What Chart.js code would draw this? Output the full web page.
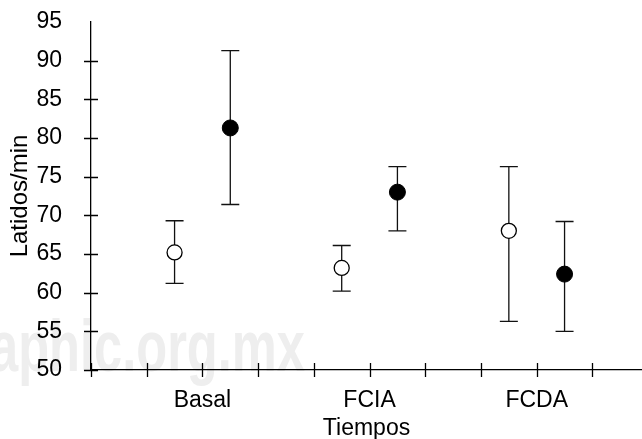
<!DOCTYPE html>
<html>
<head>
<meta charset="utf-8">
<script src="https://cdn.jsdelivr.net/npm/chart.js@4"></script>
<style>
  html, body { margin: 0; padding: 0; background: #ffffff; overflow: hidden; }
  #wrap { width: 642px; height: 439px; position: relative; }
  #chart { display: block; }
</style>
</head>
<body>
<div id="wrap"><canvas id="chart"></canvas></div>
<script>
// Latidos/min por tiempo: two groups (open / filled markers), mean with range bars.
const categories = ['Basal', 'FCIA', 'FCDA'];

const openMean = [65.2, 63.2, 68.0];
const openLow = [61.2, 60.2, 56.3];
const openHigh = [69.3, 66.1, 76.3];

const filledMean = [81.3, 73.0, 62.4];
const filledLow = [71.4, 68.0, 55.0];
const filledHigh = [91.3, 76.3, 69.2];

const yTicks = [50, 55, 60, 65, 70, 75, 80, 85, 90, 95];

const GROUP_OFFSET = 1 / 6;   // each marker sits half a minor tick from the category
const INK = '#000000';
const FONT = '"Liberation Sans", Arial, Helvetica, sans-serif';

function points(means, lows, highs, shift) {
  return means.map((m, i) => ({ x: i + 1 + shift, y: m, lo: lows[i], hi: highs[i] }));
}

// Chart.js adds room for half-labels at the axis ends; the reference has none.
function noEdgePadding(scale) {
  scale.paddingTop = 0;
  scale.paddingBottom = 0;
  scale.paddingLeft = 0;
  scale.paddingRight = 0;
}

/* faint watermark behind everything */
const watermarkPlugin = {
  id: 'watermark',
  beforeDraw(chart) {
    const { ctx } = chart;
    const text = 'aphic.org.mx';
    ctx.save();
    ctx.font = 'bold 73px ' + FONT;
    const w = ctx.measureText(text).width;
    ctx.translate(-10, 371);
    ctx.scale(315 / w, 1);
    ctx.fillStyle = '#eeeeee';
    ctx.textBaseline = 'alphabetic';
    ctx.fillText(text, 0, 0);
    ctx.restore();
  },
};

/* vertical range bars with caps, drawn under the markers */
const errorBarPlugin = {
  id: 'errorBars',
  beforeDatasetsDraw(chart) {
    const { ctx, scales: { x, y } } = chart;
    ctx.save();
    ctx.strokeStyle = '#111111';
    ctx.lineWidth = 1.3;
    chart.data.datasets.forEach((ds) => {
      ds.data.forEach((p) => {
        const px = x.getPixelForValue(p.x);
        const top = y.getPixelForValue(p.hi);
        const bot = y.getPixelForValue(p.lo);
        ctx.beginPath();
        ctx.moveTo(px, top);
        ctx.lineTo(px, bot);
        ctx.moveTo(px - 9, top);
        ctx.lineTo(px + 9, top);
        ctx.moveTo(px - 9, bot);
        ctx.lineTo(px + 9, bot);
        ctx.stroke();
      });
    });
    ctx.restore();
  },
};

/* tick marks that cross the axis lines */
const crossTicksPlugin = {
  id: 'crossTicks',
  afterDatasetsDraw(chart) {
    const { ctx, scales: { x, y }, chartArea } = chart;
    ctx.save();
    ctx.strokeStyle = INK;
    ctx.lineWidth = 1.3;
    ctx.beginPath();
    y.ticks.forEach((t) => {
      if (t.value >= y.max) return;
      const py = Math.round(y.getPixelForValue(t.value)) + 0.5;
      ctx.moveTo(chartArea.left - 7, py);
      ctx.lineTo(chartArea.left + 7, py);
    });
    x.ticks.forEach((t) => {
      const px = Math.round(x.getPixelForValue(t.value)) + 0.5;
      ctx.moveTo(px, chartArea.bottom - 7);
      ctx.lineTo(px, chartArea.bottom + 7);
    });
    ctx.stroke();
    ctx.restore();
  },
};

Chart.defaults.font.family = FONT;
Chart.defaults.color = INK;

new Chart(document.getElementById('chart'), {
  type: 'scatter',
  data: {
    datasets: [
      {
        label: 'Grupo 1',
        data: points(openMean, openLow, openHigh, -GROUP_OFFSET),
        pointRadius: 7.5,
        pointBorderWidth: 1.3,
        borderColor: INK,
        backgroundColor: '#ffffff',
      },
      {
        label: 'Grupo 2',
        data: points(filledMean, filledLow, filledHigh, GROUP_OFFSET),
        pointRadius: 8,
        pointBorderWidth: 1,
        borderColor: INK,
        backgroundColor: INK,
      },
    ],
  },
  options: {
    responsive: true,
    maintainAspectRatio: false,
    animation: false,
    layout: { autoPadding: false, padding: { top: 22, left: 0, right: 0, bottom: 0 } },
    plugins: {
      legend: { display: false },
      tooltip: { enabled: false },
    },
    scales: {
      x: {
        type: 'linear',
        min: 1 / 3,
        max: 3.63,
        afterBuildTicks(scale) {
          const ticks = [];
          for (let k = 1; k <= 10; k++) ticks.push({ value: k / 3 });
          scale.ticks = ticks;
        },
        afterFit(scale) {
          scale.height = 69;
          noEdgePadding(scale);
        },
        grid: { display: false, drawTicks: false },
        border: { display: true, color: INK, width: 1.3 },
        ticks: {
          autoSkip: false,
          maxRotation: 0,
          padding: 17,
          font: { size: 23 },
          callback(v) {
            const r = Math.round(v);
            return Math.abs(v - r) < 1e-6 ? categories[r - 1] || '' : '';
          },
        },
        title: {
          display: true,
          text: 'Tiempos',
          font: { size: 23, lineHeight: 0.74 },
          padding: { top: 0, bottom: 2 },
        },
      },
      y: {
        min: 50,
        max: 95,
        afterBuildTicks(scale) {
          scale.ticks = yTicks.map((v) => ({ value: v }));
        },
        afterFit(scale) {
          scale.width = 91;
          noEdgePadding(scale);
        },
        grid: { display: false, drawTicks: false },
        border: { display: true, color: INK, width: 1.3 },
        ticks: {
          padding: 29,
          font: { size: 23 },
        },
        title: {
          display: true,
          text: 'Latidos/min',
          font: { size: 24, lineHeight: 1 },
          padding: { top: 8, bottom: 0 },
        },
      },
    },
  },
  plugins: [watermarkPlugin, errorBarPlugin, crossTicksPlugin],
});
</script>
</body>
</html>
